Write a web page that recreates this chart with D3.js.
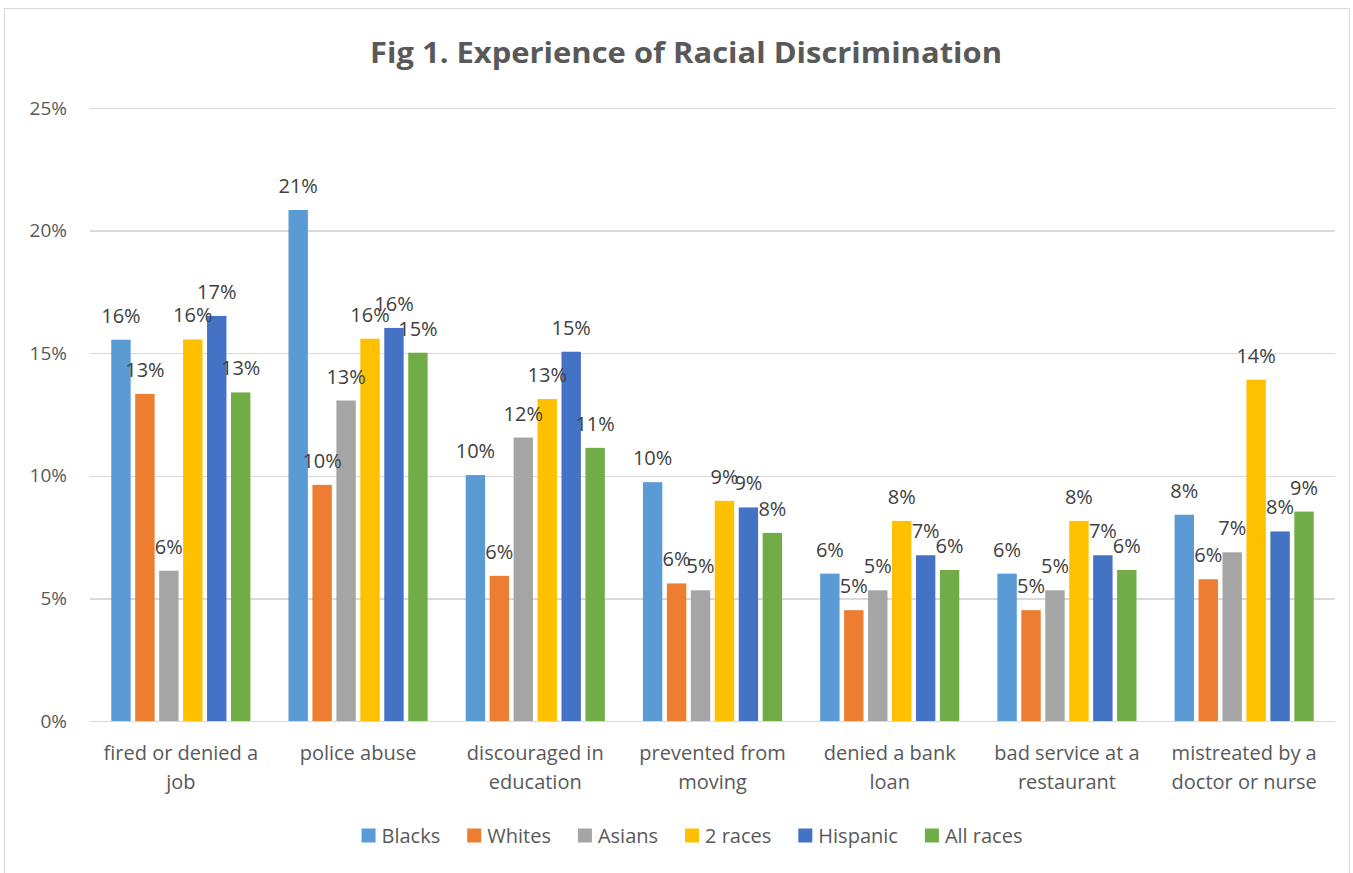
<!DOCTYPE html>
<html>
  <head>
    <meta charset="utf-8">
    <title>Fig 1. Experience of Racial Discrimination</title>
    <script src="https://cdn.jsdelivr.net/npm/d3@7"></script>
    <style>
      body { margin: 0; background: #fff; }
      text { font-family: "Open Sans", "Noto Sans", sans-serif; }
      .grid line { stroke: #d9d9d9; stroke-width: 1.3; shape-rendering: crispEdges; }
      .grid path { display: none; }
      .yaxis path, .yaxis line { display: none; }
      .yaxis text { font-size: 19px; fill: #595959; }
    </style>
  </head>
  <body>
    <script>
      // data
      var categories = ["fired or denied a job", "police abuse", "discouraged in education",
                        "prevented from moving", "denied a bank loan", "bad service at a restaurant",
                        "mistreated by a doctor or nurse"];
      var catLines = [["fired or denied a", "job"], ["police abuse"], ["discouraged in", "education"],
                      ["prevented from", "moving"], ["denied a bank", "loan"],
                      ["bad service at a", "restaurant"], ["mistreated by a", "doctor or nurse"]];
      var seriesNames = ["Blacks", "Whites", "Asians", "2 races", "Hispanic", "All races"];
      var seriesColors = ["#5B9BD5", "#ED7D31", "#A5A5A5", "#FFC000", "#4472C4", "#70AD47"];
      // values in percent, one array per series, in category order
      var blacks   = [15.55, 20.84, 10.03, 9.74, 6.01, 6.01, 8.41];
      var whites   = [13.34, 9.63, 5.92, 5.61, 4.52, 4.52, 5.78];
      var asians   = [6.13, 13.07, 11.56, 5.33, 5.33, 5.33, 6.88];
      var twoRaces = [15.56, 15.59, 13.13, 8.98, 8.16, 8.16, 13.92];
      var hispanic = [16.52, 16.03, 15.06, 8.71, 6.76, 6.76, 7.73];
      var allRaces = [13.40, 15.02, 11.14, 7.67, 6.16, 6.16, 8.54];
      var yTicks = [0, 5, 10, 15, 20, 25];

      var seriesValues = [blacks, whites, asians, twoRaces, hispanic, allRaces];

      var w = 1353, h = 873;
      var plotL = 90, plotR = 1335, plotT = 108, plotB = 721;

      var svg = d3.select("body").append("svg")
                  .attr("width", w)
                  .attr("height", h);

      // chart border
      svg.append("rect")
         .attr("x", 4.5).attr("y", 8.5)
         .attr("width", 1345).attr("height", 880)
         .attr("fill", "#fff")
         .attr("stroke", "#d9d9d9");

      // title
      svg.append("text")
         .attr("x", 686).attr("y", 63)
         .attr("text-anchor", "middle")
         .attr("font-size", "29px")
         .attr("font-weight", "bold")
         .attr("fill", "#595959")
         .attr("textLength", 632)
         .attr("lengthAdjust", "spacingAndGlyphs")
         .text("Fig 1. Experience of Racial Discrimination");

      var x0 = d3.scaleBand()
                 .domain(d3.range(categories.length))
                 .range([plotL, plotR])
                 .paddingInner(0.215)
                 .paddingOuter(0.12);
      var x1 = d3.scaleBand()
                 .domain(d3.range(seriesNames.length))
                 .range([0, x0.bandwidth()])
                 .paddingInner(0.19);
      var y = d3.scaleLinear()
                .domain([0, 25])
                .range([plotB, plotT]);

      // gridlines
      svg.append("g")
         .attr("class", "grid")
         .attr("transform", "translate(" + plotL + ",0)")
         .call(d3.axisRight(y).tickValues(yTicks).tickSize(plotR - plotL).tickFormat(""));

      // y axis labels
      svg.append("g")
         .attr("class", "yaxis")
         .attr("transform", "translate(78,0)")
         .call(d3.axisLeft(y).tickValues(yTicks).tickSize(0).tickPadding(11)
                 .tickFormat(function(d) { return d + "%"; }));

      // bars
      var groups = svg.selectAll("g.cat")
                      .data(categories)
                      .enter().append("g")
                      .attr("class", "cat")
                      .attr("transform", function(d, i) { return "translate(" + x0(i) + ",0)"; });

      groups.each(function(c, ci) {
        var g = d3.select(this);
        var vals = seriesValues.map(function(s, si) { return { s: si, v: s[ci] }; });
        g.selectAll("rect")
         .data(vals)
         .enter().append("rect")
         .attr("x", function(d) { return x1(d.s); })
         .attr("y", function(d) { return y(d.v); })
         .attr("width", x1.bandwidth())
         .attr("height", function(d) { return plotB - y(d.v); })
         .attr("fill", function(d) { return seriesColors[d.s]; });
      });

      // data labels (after all bars so they sit on top)
      var labelLayer = svg.append("g");
      categories.forEach(function(c, ci) {
        seriesValues.forEach(function(s, si) {
          labelLayer.append("text")
            .attr("x", x0(ci) + x1(si) + x1.bandwidth() / 2)
            .attr("y", y(s[ci]) - 17)
            .attr("text-anchor", "middle")
            .attr("font-size", "20px")
            .attr("fill", "#404040")
            .text(Math.round(s[ci]) + "%");
        });
      });

      // category labels
      catLines.forEach(function(lines, i) {
        var t = svg.append("text")
                   .attr("text-anchor", "middle")
                   .attr("font-size", "20px")
                   .attr("fill", "#595959");
        lines.forEach(function(l, li) {
          t.append("tspan")
           .attr("x", x0(i) + x0.bandwidth() / 2)
           .attr("y", 760 + li * 29)
           .text(l);
        });
      });

      // legend
      var legend = svg.append("g");
      var lx = 0;
      seriesNames.forEach(function(name, i) {
        var item = legend.append("g").attr("transform", "translate(" + lx + ",0)");
        item.append("rect")
            .attr("x", 0).attr("y", -6.5)
            .attr("width", 14).attr("height", 14)
            .attr("fill", seriesColors[i]);
        var t = item.append("text")
                    .attr("x", 20).attr("y", 7.5)
                    .attr("font-size", "20px")
                    .attr("fill", "#595959")
                    .text(name);
        lx += 20 + t.node().getComputedTextLength() + 27;
      });
      lx -= 27;
      legend.attr("transform", "translate(" + (692 - lx / 2) + ",835)");
    </script>
  </body>
</html>
